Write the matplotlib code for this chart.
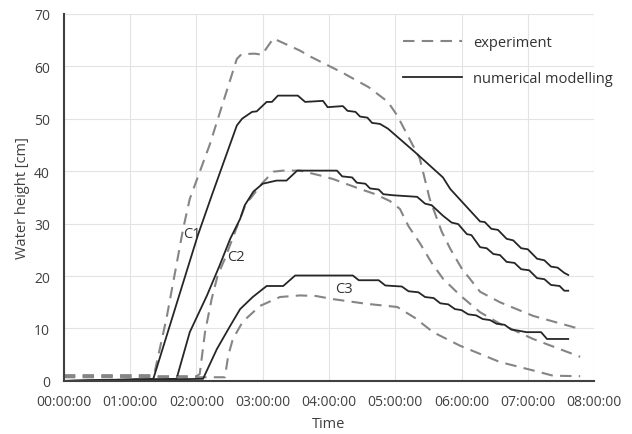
import matplotlib.pyplot as plt

# time in hours, water height in cm
c1_exp_t = [0.0, 1.36, 1.55, 1.80, 1.90, 2.20, 2.45, 2.61, 2.68, 2.88, 2.99, 3.16,
            3.56, 3.71, 4.20, 4.60, 4.89, 5.03, 5.20, 5.37, 5.52, 5.70, 5.83, 6.00,
            6.28, 6.58, 7.08, 7.79]
c1_exp_v = [1.1, 1.1, 12.0, 29.0, 34.7, 45.0, 55.0, 61.4, 62.3, 62.4, 62.2, 65.3,
            63.0, 61.9, 58.8, 56.0, 53.2, 50.6, 46.5, 42.4, 34.7, 28.5, 25.2, 21.5,
            17.0, 15.0, 12.4, 9.9]

c2_exp_t = [0.0, 2.00, 2.05, 2.13, 2.23, 2.32, 2.43, 2.60, 2.76, 2.81, 3.00, 3.16,
            3.31, 3.56, 3.86, 4.06, 4.47, 4.70, 4.92, 5.07, 5.20, 5.37, 5.55, 5.72,
            5.98, 6.28, 6.58, 7.08, 7.79]
c2_exp_v = [0.9, 0.9, 1.3, 9.3, 15.6, 20.1, 23.3, 29.0, 34.2, 34.7, 37.8, 39.9,
            40.1, 40.1, 39.2, 38.5, 36.6, 35.6, 34.3, 32.8, 29.5, 26.3, 22.5, 19.5,
            16.3, 13.1, 10.9, 8.0, 4.6]

c3_exp_t = [0.0, 2.43, 2.48, 2.55, 2.70, 2.96, 3.26, 3.56, 3.80, 4.06, 4.57, 5.03,
            5.30, 5.57, 5.98, 6.58, 7.08, 7.38, 7.79]
c3_exp_v = [0.7, 0.7, 4.8, 8.0, 11.3, 14.3, 16.0, 16.3, 16.2, 15.6, 14.7, 14.1,
            12.0, 9.3, 6.7, 3.6, 2.0, 1.0, 0.9]

c1_num_t = [0.0, 1.35, 2.02, 2.23, 2.61, 2.69, 2.84, 2.91, 3.06, 3.14, 3.23, 3.53,
            3.64, 3.91, 3.98, 4.21, 4.28, 4.40, 4.47, 4.58, 4.65, 4.77, 4.89, 5.30,
            5.72, 5.83, 6.28, 6.35, 6.45, 6.55, 6.68, 6.78, 6.90, 7.00, 7.14, 7.25,
            7.35, 7.45, 7.55, 7.61]
c1_num_v = [0.0, 0.4, 27.7, 35.3, 48.7, 50.0, 51.3, 51.4, 53.2, 53.2, 54.4, 54.4,
            53.2, 53.4, 52.2, 52.4, 51.5, 51.3, 50.4, 50.2, 49.2, 49.0, 48.1, 43.6,
            38.8, 36.6, 30.4, 30.3, 29.0, 28.8, 27.1, 26.8, 25.3, 25.1, 23.3, 23.0,
            21.8, 21.6, 20.6, 20.2]

c2_num_t = [0.0, 1.70, 1.90, 2.16, 2.35, 2.51, 2.66, 2.73, 2.86, 3.00, 3.21, 3.36,
            3.52, 4.12, 4.20, 4.35, 4.42, 4.55, 4.62, 4.75, 4.82, 4.97, 5.33, 5.45,
            5.55, 5.72, 5.85, 5.95, 6.08, 6.15, 6.28, 6.38, 6.48, 6.58, 6.68, 6.80,
            6.90, 7.02, 7.14, 7.25, 7.35, 7.48, 7.55, 7.61]
c2_num_v = [0.0, 0.4, 9.3, 16.3, 22.0, 27.1, 30.9, 33.5, 36.1, 37.6, 38.2, 38.2,
            40.1, 40.1, 39.0, 38.8, 37.8, 37.6, 36.7, 36.5, 35.6, 35.4, 35.1, 33.8,
            33.5, 31.5, 30.2, 29.9, 28.0, 27.8, 25.5, 25.3, 24.2, 24.0, 22.7, 22.5,
            21.3, 21.1, 19.6, 19.4, 18.3, 18.1, 17.2, 17.2]

c3_num_t = [0.0, 2.10, 2.31, 2.51, 2.66, 2.85, 3.06, 3.31, 3.49, 4.36, 4.45, 4.75,
            4.85, 5.10, 5.20, 5.35, 5.45, 5.58, 5.68, 5.80, 5.90, 6.00, 6.10, 6.22,
            6.32, 6.43, 6.53, 6.65, 6.75, 6.85, 6.98, 7.20, 7.29, 7.61]
c3_num_v = [0.0, 0.4, 6.1, 10.5, 13.7, 16.0, 18.1, 18.1, 20.1, 20.1, 19.2, 19.2,
            18.2, 18.0, 17.1, 16.9, 16.0, 15.8, 14.8, 14.6, 13.7, 13.5, 12.7, 12.5,
            11.8, 11.6, 10.9, 10.7, 9.8, 9.6, 9.3, 9.3, 8.0, 8.0]

x_ticks = [0, 1, 2, 3, 4, 5, 6, 7, 8]
x_labels = ['00:00:00', '01:00:00', '02:00:00', '03:00:00', '04:00:00',
            '05:00:00', '06:00:00', '07:00:00', '08:00:00']
y_ticks = [0, 10, 20, 30, 40, 50, 60, 70]

plt.rcParams['font.family'] = ['Open Sans', 'DejaVu Sans']

fig = plt.figure(figsize=(6.32, 4.35), dpi=100)
ax = fig.add_axes([0.101, 0.122, 0.839, 0.844])

exp_style = dict(color='#858585', lw=1.5, dashes=(5.5, 3.5))
num_style = dict(color='#262626', lw=1.3)

ax.plot(c1_exp_t, c1_exp_v, label='experiment', **exp_style)
ax.plot(c1_num_t, c1_num_v, label='numerical modelling', **num_style)
ax.plot(c2_exp_t, c2_exp_v, **exp_style)
ax.plot(c2_num_t, c2_num_v, **num_style)
ax.plot(c3_exp_t, c3_exp_v, **exp_style)
ax.plot(c3_num_t, c3_num_v, **num_style)

ax.text(1.80, 28.1, 'C1', fontsize=10.5, color='#333333', va='center')
ax.text(2.46, 23.7, 'C2', fontsize=10.5, color='#333333', va='center')
ax.text(4.09, 17.6, 'C3', fontsize=10.5, color='#333333', va='center')

ax.set_xlim(0, 8)
ax.set_ylim(0, 70)
ax.set_xticks(x_ticks)
ax.set_xticklabels(x_labels)
ax.set_yticks(y_ticks)
ax.tick_params(length=0, labelsize=10, colors='#404040')
ax.tick_params(axis='x', pad=9.5)
ax.tick_params(axis='y', pad=10)
ax.grid(True, color='#e3e3e3', lw=0.8)
ax.set_axisbelow(True)
for s in ['top', 'right']:
    ax.spines[s].set_visible(False)
for s in ['left', 'bottom']:
    ax.spines[s].set_color('#404040')
    ax.spines[s].set_linewidth(1.5)

ax.set_xlabel('Time', fontsize=10.5, color='#404040', labelpad=5)
ax.set_ylabel('Water height [cm]', fontsize=10.5, color='#404040', labelpad=3)

ax.legend(loc='upper left', bbox_to_anchor=(0.64, 0.942), frameon=False,
          borderpad=0, borderaxespad=0, fontsize=10.5, handlelength=4.05,
          labelspacing=1.45, handletextpad=0.75, labelcolor='#333333')

fig.savefig('out.png', dpi=100)
